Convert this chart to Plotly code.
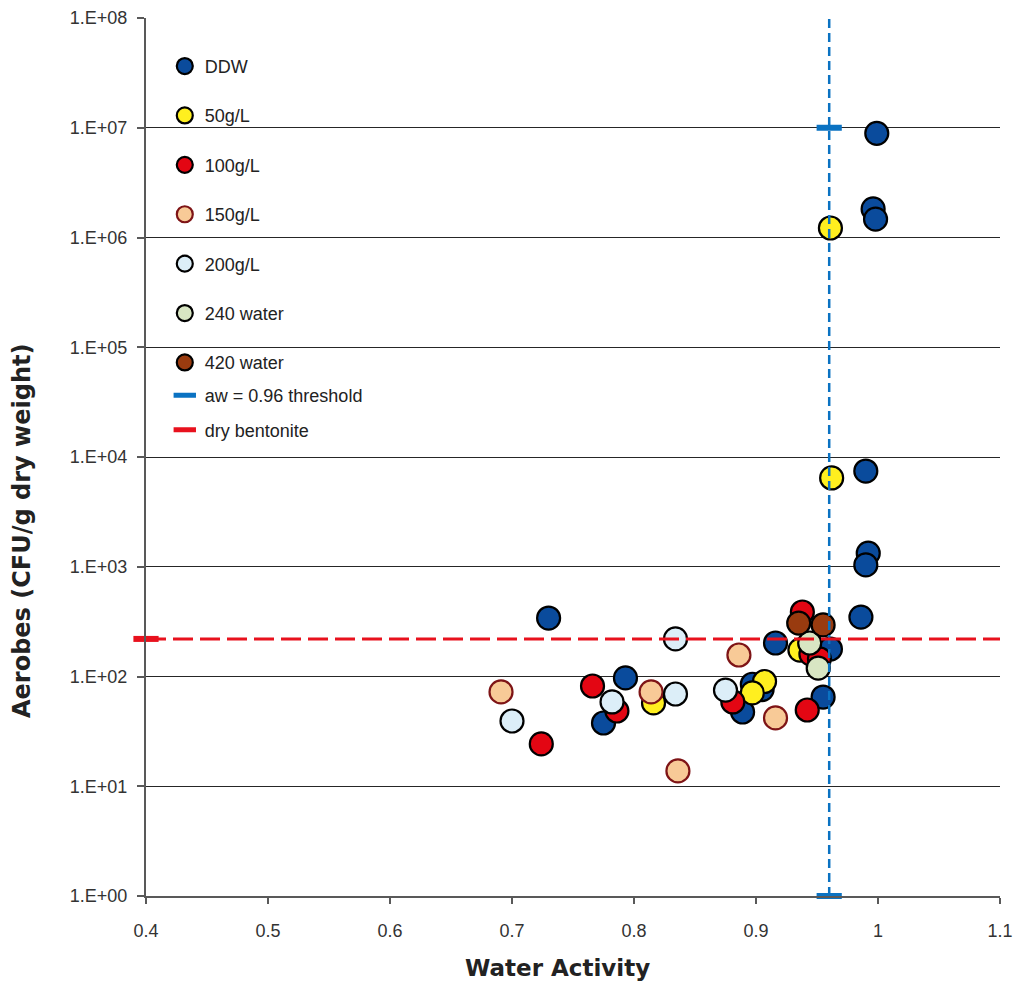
import plotly.graph_objects as go

# Water activity (aw) and aerobic counts (CFU/g dry weight) for each treatment
ddw_aw = [0.999, 0.996, 0.998, 0.990, 0.992, 0.990, 0.986, 0.730, 0.916, 0.961,
          0.955, 0.793, 0.775, 0.897, 0.905, 0.889]
ddw_cfu = [8.9e6, 1.82e6, 1.47e6, 7450, 1330, 1040, 348, 341, 202, 178,
           65, 97, 37.7, 85, 76, 47.5]

g50_aw = [0.961, 0.962, 0.936, 0.816, 0.907, 0.897]
g50_cfu = [1.22e6, 6440, 174, 57.4, 90, 70.8]

g100_aw = [0.938, 0.945, 0.952, 0.942, 0.881, 0.766, 0.786, 0.724]
g100_cfu = [387, 160, 145, 49.5, 58.6, 81.9, 48.5, 24.3]

g150_aw = [0.886, 0.916, 0.691, 0.814, 0.836]
g150_cfu = [157, 41.9, 72.3, 72.3, 13.8]

g200_aw = [0.834, 0.700, 0.782, 0.834, 0.875]
g200_cfu = [220, 39.3, 58.6, 69.3, 75]

w240_aw = [0.944, 0.951]
w240_cfu = [202, 119]

w420_aw = [0.935, 0.955]
w420_cfu = [307, 295]

# Reference lines
threshold_aw = 0.96
threshold_cfu = [1, 1e8]
threshold_caps_cfu = [1, 1e7]
bentonite_aw = [0.4, 1.1]
bentonite_cap_aw = [0.4]
bentonite_cfu = 220

y_tickvals = [1, 10, 100, 1e3, 1e4, 1e5, 1e6, 1e7, 1e8]
y_ticktext = ["1.E+00", "1.E+01", "1.E+02", "1.E+03", "1.E+04",
              "1.E+05", "1.E+06", "1.E+07", "1.E+08"]
x_tickvals = [0.4, 0.5, 0.6, 0.7, 0.8, 0.9, 1.0, 1.1]
x_ticktext = ["0.4", "0.5", "0.6", "0.7", "0.8", "0.9", "1", "1.1"]

series = [
    ("DDW", ddw_aw, ddw_cfu, "#0A4B9C", "#000000"),
    ("50g/L", g50_aw, g50_cfu, "#FFEF1F", "#000000"),
    ("100g/L", g100_aw, g100_cfu, "#E30613", "#000000"),
    ("150g/L", g150_aw, g150_cfu, "#F8CA97", "#7E1416"),
    ("200g/L", g200_aw, g200_cfu, "#DCEEF8", "#000000"),
    ("240 water", w240_aw, w240_cfu, "#D8E6C3", "#000000"),
    ("420 water", w420_aw, w420_cfu, "#993B0F", "#000000"),
]

FONT = "Liberation Sans, Arial, sans-serif"
TITLE_FONT = "DejaVu Sans, Verdana, sans-serif"
BLUE = "#0A72C2"
RED = "#E8111D"

fig = go.Figure()

for i, (name, xs, ys, fill, edge) in enumerate(series):
    fig.add_trace(go.Scatter(
        x=xs, y=ys, mode="markers", name=name,
        legendgroup=f"g{i}", legend="legend",
        marker=dict(size=23, color=fill, line=dict(color=edge, width=2.2)),
    ))

# aw = 0.96 threshold: vertical dashed line plus end caps
fig.add_trace(go.Scatter(
    x=[threshold_aw] * len(threshold_cfu), y=threshold_cfu,
    mode="lines", showlegend=False, cliponaxis=False,
    line=dict(color=BLUE, width=2.5, dash="9px,5px"),
))
fig.add_trace(go.Scatter(
    x=[threshold_aw] * len(threshold_caps_cfu), y=threshold_caps_cfu,
    mode="markers", showlegend=False, cliponaxis=False,
    marker=dict(symbol="line-ew", size=18, color=BLUE,
                line=dict(color=BLUE, width=6)),
))

# dry bentonite level: horizontal dashed line plus start cap
fig.add_trace(go.Scatter(
    x=bentonite_aw, y=[bentonite_cfu] * len(bentonite_aw),
    mode="lines", showlegend=False, cliponaxis=False,
    line=dict(color=RED, width=3, dash="20px,7px"),
))
fig.add_trace(go.Scatter(
    x=bentonite_cap_aw, y=[bentonite_cfu] * len(bentonite_cap_aw),
    mode="markers", showlegend=False, cliponaxis=False,
    marker=dict(symbol="line-ew", size=18, color=RED,
                line=dict(color=RED, width=6)),
))

# legend keys for the two reference lines
for j, (name, col) in enumerate([("aw = 0.96 threshold", BLUE),
                                  ("dry bentonite", RED)]):
    fig.add_trace(go.Scatter(
        x=[None], y=[None], mode="markers", name=name,
        legend="legend2", legendgroup=f"l{j}",
        marker=dict(symbol="line-ew", size=20, line=dict(color=col, width=6)),
    ))

fig.update_layout(
    width=1014, height=981,
    margin=dict(l=146, r=14, t=18, b=85),
    paper_bgcolor="white", plot_bgcolor="white",
    font=dict(family=FONT, size=18, color="#333333"),
    legend=dict(x=0.022, y=0.966, xanchor="left", yanchor="top",
                bgcolor="rgba(0,0,0,0)", tracegroupgap=23,
                font=dict(family=FONT, size=18, color="#222222")),
    legend2=dict(x=0.022, y=0.591, xanchor="left", yanchor="top",
                 bgcolor="rgba(0,0,0,0)", tracegroupgap=8,
                 font=dict(family=FONT, size=18, color="#222222")),
    xaxis=dict(
        range=[0.4, 1.1], tickvals=x_tickvals, ticktext=x_ticktext,
        automargin=False,
        showgrid=False, zeroline=False,
        showline=True, linecolor="#595959", linewidth=2,
        ticks="outside", ticklen=6, tickcolor="#595959", tickwidth=1.5,
        ticklabelstandoff=11,
        tickfont=dict(size=18, color="#333333"),
    ),
    yaxis=dict(
        type="log", range=[0, 8], tickvals=y_tickvals, ticktext=y_ticktext,
        automargin=False,
        showgrid=True, gridcolor="#262626", gridwidth=1, zeroline=False,
        showline=True, linecolor="#595959", linewidth=2,
        ticks="outside", ticklen=7, tickcolor="#595959", tickwidth=1.5,
        ticklabelstandoff=6,
        tickfont=dict(size=18, color="#333333"),
    ),
    annotations=[
        dict(text="<b>Water Activity</b>", xref="paper", yref="paper",
             x=0.4813, y=-0.082, xanchor="center", yanchor="middle",
             showarrow=False,
             font=dict(family=TITLE_FONT, size=23, color="#222222")),
        dict(text="<b>Aerobes (CFU/g dry weight)</b>", xref="paper",
             yref="paper", x=-0.1452, y=0.4157, xanchor="center",
             yanchor="middle", textangle=-90, showarrow=False,
             font=dict(family=TITLE_FONT, size=24, color="#222222")),
    ],
)

fig.write_html("out.html")
